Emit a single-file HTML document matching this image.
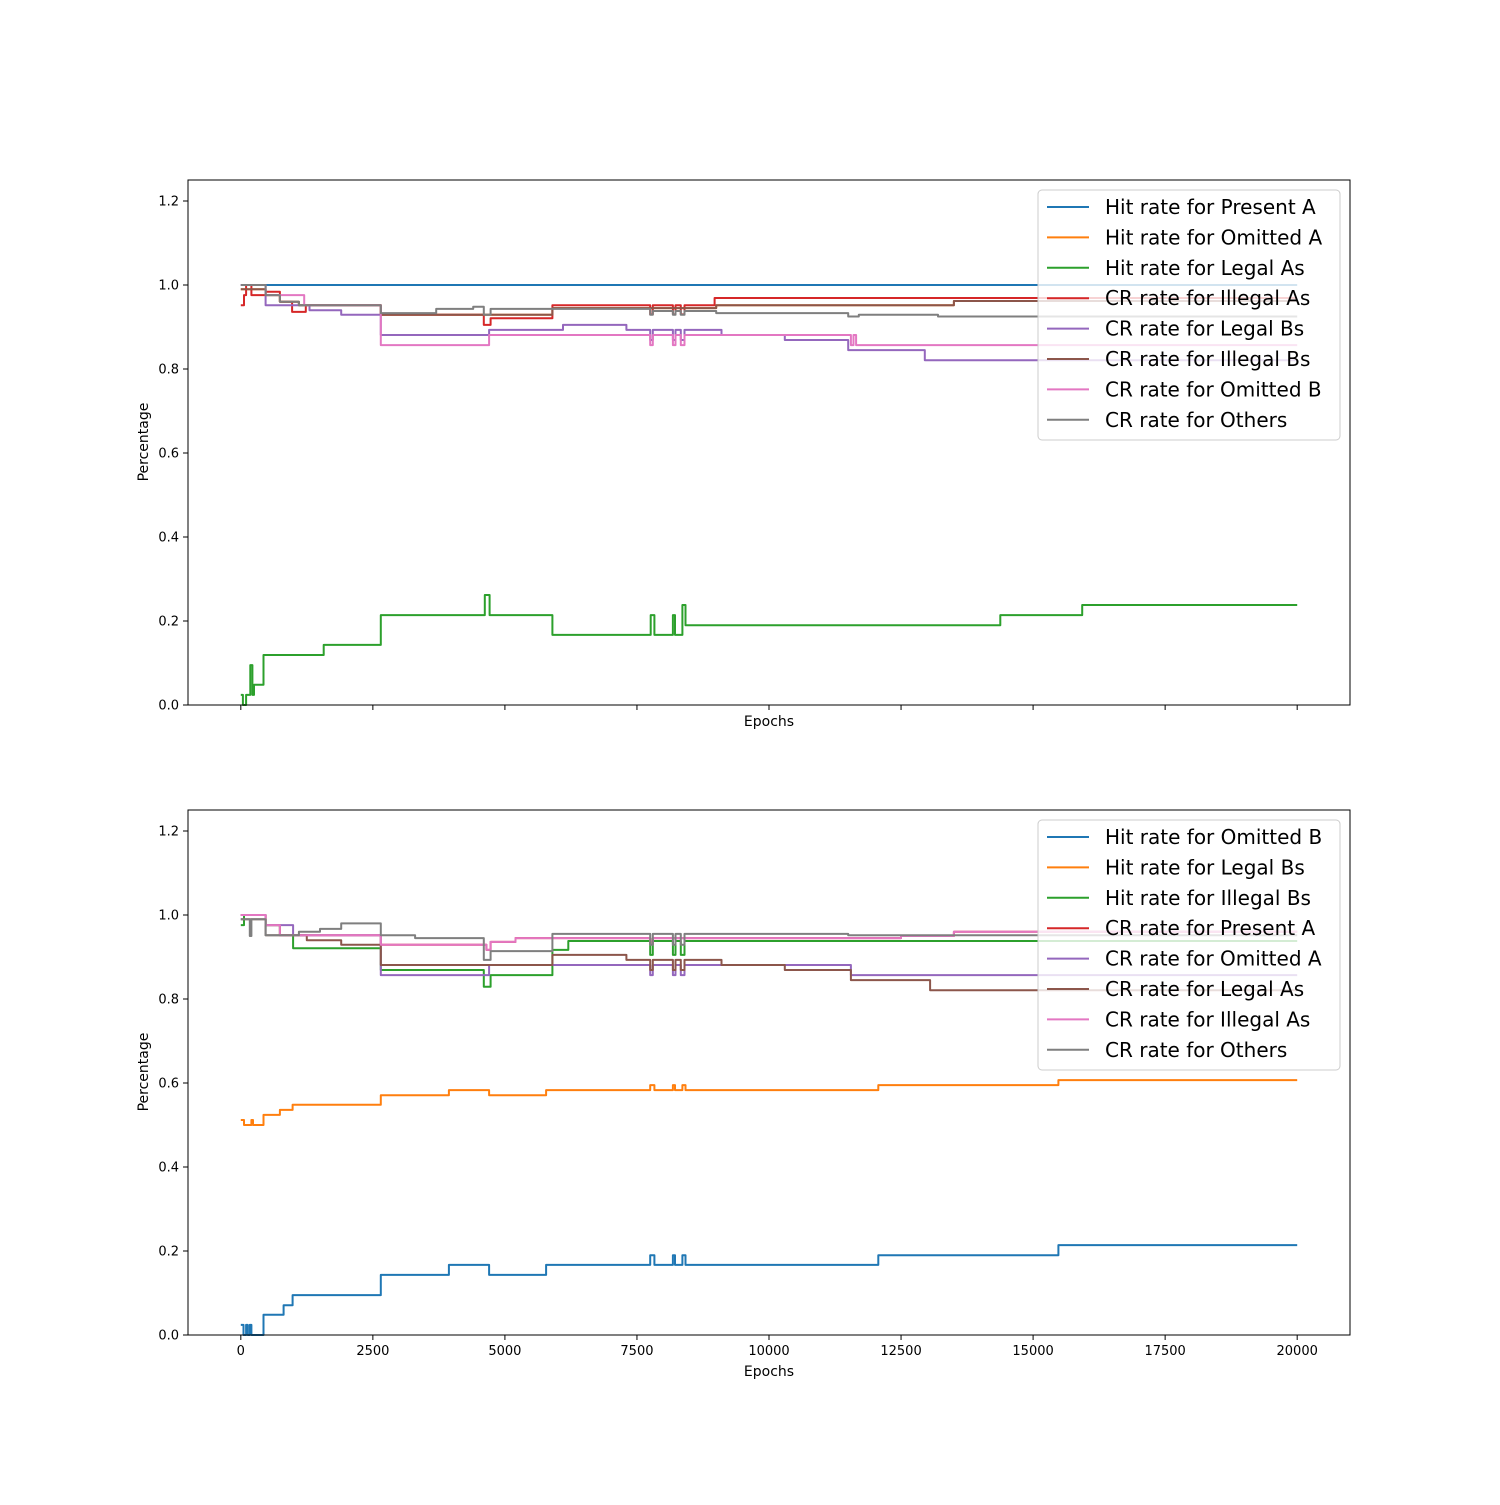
<!DOCTYPE html>
<html><head><meta charset="utf-8"><style>
body{margin:0;background:#fff;}
svg{font-family:"DejaVu Sans","Liberation Sans",sans-serif;}
</style></head><body>
<svg id="chart" width="1500" height="1500" xmlns="http://www.w3.org/2000/svg"></svg>
<script>
const xTicks=[0,2500,5000,7500,10000,12500,15000,17500,20000];
const yTicks=[0.0,0.2,0.4,0.6,0.8,1.0,1.2];
const colors=["#1f77b4","#ff7f0e","#2ca02c","#d62728","#9467bd","#8c564b","#e377c2","#7f7f7f"];
const topLabels=["Hit rate for Present A","Hit rate for Omitted A","Hit rate for Legal As","CR rate for Illegal As","CR rate for Legal Bs","CR rate for Illegal Bs","CR rate for Omitted B","CR rate for Others"];
const botLabels=["Hit rate for Omitted B","Hit rate for Legal Bs","Hit rate for Illegal Bs","CR rate for Present A","CR rate for Omitted A","CR rate for Legal As","CR rate for Illegal As","CR rate for Others"];
const topPresentA=[[0,1],[20000,1]];
const topIllegalBs=[[0,0.99],[470,0.976],[740,0.96],[1100,0.952],[2650,0.929],[5900,0.945],[9000,0.952],[13500,0.962],[20000,0.962]];
const topOmittedA=topIllegalBs;
const topLegalAs=[[0,0.024],[40,0],[100,0.024],[180,0.095],[220,0.024],[250,0.048],[430,0.119],[1570,0.143],[2650,0.214],[4620,0.262],[4710,0.214],[5900,0.167],[7760,0.214],[7830,0.167],[8180,0.214],[8220,0.167],[8360,0.238],[8420,0.19],[14380,0.214],[15930,0.238],[20000,0.238]];
const topIllegalAs=[[0,0.952],[60,0.976],[100,1.0],[200,0.976],[470,0.984],[740,0.96],[970,0.936],[1230,0.952],[2650,0.929],[4600,0.905],[4730,0.921],[5900,0.952],[7750,0.93],[7800,0.952],[8180,0.93],[8230,0.952],[8330,0.93],[8400,0.952],[8970,0.969],[20000,0.969]];
const topLegalBs=[[0,1.0],[470,0.952],[1300,0.94],[1900,0.929],[2650,0.881],[4700,0.893],[6100,0.905],[7300,0.893],[7750,0.869],[7800,0.893],[8180,0.869],[8230,0.893],[8330,0.869],[8400,0.893],[9100,0.881],[10300,0.869],[11500,0.845],[12950,0.821],[20000,0.821]];
const topOmittedB=[[0,1.0],[470,0.976],[1200,0.952],[2650,0.857],[4700,0.881],[7750,0.857],[7800,0.881],[8180,0.857],[8230,0.881],[8330,0.857],[8400,0.881],[11550,0.857],[11600,0.881],[11650,0.857],[20000,0.857]];
const topOthers=[[0,1.0],[470,0.976],[740,0.96],[1100,0.952],[2650,0.933],[3700,0.943],[4400,0.948],[4600,0.929],[4730,0.943],[7750,0.929],[7800,0.938],[8180,0.929],[8230,0.938],[8330,0.929],[8400,0.938],[9000,0.933],[11500,0.925],[11700,0.929],[13200,0.925],[20000,0.925]];
const botOmittedB=[[0,0.024],[50,0],[100,0.024],[130,0],[170,0.024],[200,0],[430,0.048],[810,0.071],[980,0.095],[2650,0.143],[3940,0.167],[4700,0.143],[5780,0.167],[7750,0.19],[7830,0.167],[8180,0.19],[8220,0.167],[8360,0.19],[8420,0.167],[12070,0.19],[15480,0.214],[20000,0.214]];
const botLegalBs=[[0,0.512],[60,0.5],[200,0.512],[230,0.5],[430,0.524],[740,0.536],[980,0.548],[2650,0.571],[3940,0.583],[4700,0.571],[5780,0.583],[7750,0.595],[7830,0.583],[8180,0.595],[8220,0.583],[8360,0.595],[8420,0.583],[12070,0.595],[15480,0.607],[20000,0.607]];
const botIllegalBs=[[0,0.976],[60,1.0],[470,0.976],[740,0.952],[990,0.921],[2650,0.869],[4600,0.829],[4730,0.857],[5900,0.917],[6200,0.938],[7750,0.905],[7800,0.938],[8180,0.905],[8230,0.938],[8330,0.905],[8400,0.938],[20000,0.938]];
const botIllegalAs=[[0,1.0],[470,0.976],[740,0.952],[2650,0.929],[4650,0.917],[4730,0.936],[5200,0.945],[7750,0.93],[7800,0.945],[12500,0.95],[13500,0.96],[20000,0.96]];
const botPresentA=botIllegalAs;
const botOmittedA=[[0,1.0],[470,0.976],[990,0.952],[2650,0.857],[4700,0.881],[7750,0.857],[7800,0.881],[8180,0.857],[8230,0.881],[8330,0.857],[8400,0.881],[11550,0.857],[20000,0.857]];
const botLegalAs=[[0,0.99],[470,0.952],[1250,0.94],[1900,0.929],[2650,0.881],[5900,0.905],[7300,0.893],[7750,0.869],[7800,0.893],[8180,0.869],[8230,0.893],[8330,0.869],[8400,0.893],[9100,0.881],[10300,0.869],[11550,0.845],[13050,0.821],[20000,0.821]];
const botOthers=[[0,0.99],[170,0.95],[200,0.99],[470,0.952],[1100,0.96],[1500,0.967],[1900,0.98],[2650,0.952],[3300,0.945],[4600,0.893],[4730,0.914],[5900,0.955],[7750,0.929],[7800,0.955],[8180,0.929],[8230,0.955],[8330,0.929],[8400,0.955],[11500,0.952],[20000,0.952]];
const topSeries=[topPresentA,topOmittedA,topLegalAs,topIllegalAs,topLegalBs,topIllegalBs,topOmittedB,topOthers];
const botSeries=[botOmittedB,botLegalBs,botIllegalBs,botPresentA,botOmittedA,botLegalAs,botIllegalAs,botOthers];

const NS="http://www.w3.org/2000/svg";
const svg=document.getElementById('chart');
function mk(tag,attrs,parent){const e=document.createElementNS(NS,tag);for(const k in attrs)e.setAttribute(k,attrs[k]);(parent||svg).appendChild(e);return e;}
function drawPanel(top,series,labels,showXLabels,prefix){
  const L=188,R=1350,B=top+525;
  const xs=v=>L+(v+1000)/22000*(R-L);
  const ys=v=>B-v/1.25*525;
  const g=mk('g',{});
  
  
  series.forEach((s,i)=>{
    let d='M'+xs(s[0][0]).toFixed(1)+','+ys(s[0][1]).toFixed(1);
    for(let j=1;j<s.length;j++){
      d+='H'+xs(s[j][0]).toFixed(1)+'V'+ys(s[j][1]).toFixed(1);
    }
    const path=mk('path',{d:d,fill:'none',stroke:colors[i],'stroke-width':2,'stroke-linejoin':'round'},g);
    
    
  });
  const frame=mk('rect',{x:L,y:top,width:R-L,height:525,fill:'none',stroke:'#000','stroke-width':1},g);
  
  
  xTicks.forEach(t=>{
    mk('line',{x1:xs(t),x2:xs(t),y1:B,y2:B+5,stroke:'#000'},g);
    if(showXLabels){const tx=mk('text',{x:xs(t),y:B+20,'font-size':13,'text-anchor':'middle'},g);tx.textContent=String(t);
      
      }
  });
  yTicks.forEach(t=>{
    mk('line',{x1:L-5,x2:L,y1:ys(t),y2:ys(t),stroke:'#000'},g);
    const ty=mk('text',{x:L-9,y:ys(t)+4.5,'font-size':13,'text-anchor':'end'},g);ty.textContent=t.toFixed(1);
    
    
  });
  const xl=mk('text',{x:769,y:showXLabels?B+41:B+21,'font-size':14,'text-anchor':'middle'},g);xl.textContent='Epochs';
  
  
  const yl=mk('text',{x:148,y:top+262,'font-size':14,'text-anchor':'middle',transform:'rotate(-90 148 '+(top+262)+')'},g);yl.textContent='Percentage';
  
  
  const lg=mk('g',{},g);
  
  
  mk('rect',{x:1038,y:top+10,width:302,height:250,rx:4,fill:'rgba(255,255,255,0.8)',stroke:'#ccc'},lg);
  labels.forEach((lab,i)=>{
    const y=top+27+i*30.4;
    mk('line',{x1:1047,x2:1089,y1:y,y2:y,stroke:colors[i],'stroke-width':2},lg);
    const t=mk('text',{x:1105,y:y+7,'font-size':20},lg);t.textContent=lab;
    
    
  });
}
drawPanel(180,topSeries,topLabels,false,'top');
drawPanel(810,botSeries,botLabels,true,'bottom');
</script>
</body></html>
